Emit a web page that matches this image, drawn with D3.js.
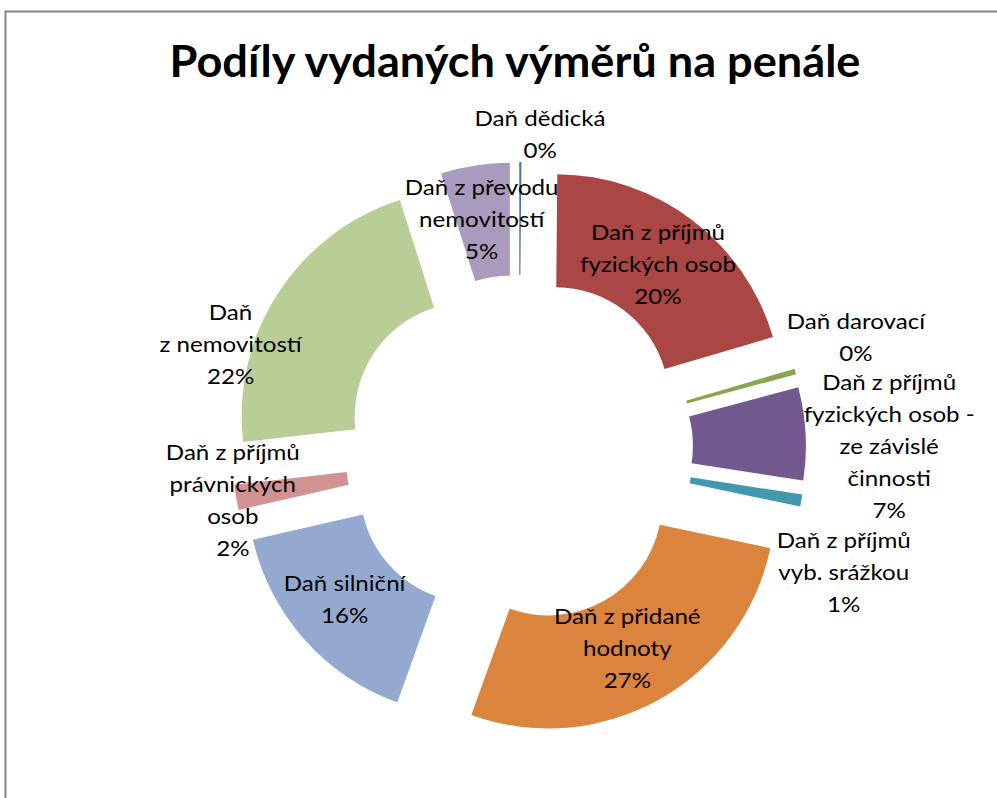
<!DOCTYPE html>
<html>
<head>
<meta charset="utf-8">
<script src="https://cdn.jsdelivr.net/npm/d3@7"></script>
<style>
  body { margin: 0; background: #fff; }
  svg text { font-family: Lato, "Open Sans", sans-serif; fill: #000; }
</style>
</head>
<body>
<div id="chart"></div>
<script>
// categories, wrapped as in the original chart (clockwise from 12 o'clock)
const categories = [
  'Daň dědická',
  'Daň z příjmů\nfyzických osob',
  'Daň darovací',
  'Daň z příjmů\nfyzických osob -\nze závislé\nčinnosti',
  'Daň z příjmů\nvyb. srážkou',
  'Daň z přidané\nhodnoty',
  'Daň silniční',
  'Daň z příjmů\nprávnických\nosob',
  'Daň\nz nemovitostí',
  'Daň z převodu\nnemovitostí'
];

// share of issued assessments (%)
const values = [0.15, 20.3, 0.4, 6.6, 0.85, 27.2, 15.9, 1.8, 21.9, 4.9];

const colors = ['#4572A7', '#AA4643', '#89A54E', '#71588F', '#4198AF',
                '#DB843D', '#93A9CF', '#D19392', '#B9CD96', '#A99BBD'];

// label nudge from the slice centroid (Excel "best fit" placement)
const labelNudge = [[20, -84], [0, 0], [115, -49], [140, 10], [98, 82],
                    [-4, -2], [-2, -2], [-59, 13], [-95, 21], [-2, -2]];

const width = 997, height = 798;
const cx = 519, cy = 449;
const outerR = 227, innerR = 114, explode = 60;
const lineH = 32;
const stretch = 1.15; // the original picture is stretched sideways

const svg = d3.select('#chart').append('svg')
    .attr('width', width)
    .attr('height', height);

// chart area frame (right and bottom run off the picture)
svg.append('rect')
    .attr('x', 5.5).attr('y', 11.5)
    .attr('width', width + 20).attr('height', height + 20)
    .attr('fill', 'none')
    .attr('stroke', '#868686')
    .attr('stroke-width', 2);

svg.append('text')
    .attr('transform', 'translate(515,77) scale(1.05,1)')
    .attr('text-anchor', 'middle')
    .style('font-size', '43px')
    .style('font-weight', 'bold')
    .text('Podíly vydaných výměrů na penále');

const total = d3.sum(values);
const pct = d3.format('.0%');

const pie = d3.pie()
    .sort(null)
    .value(d => d);

const arc = d3.arc()
    .innerRadius(innerR)
    .outerRadius(outerR);

const arcs = pie(values);

const g = svg.append('g')
    .attr('transform', `translate(${cx},${cy})`);

const slice = g.selectAll('.slice')
    .data(arcs)
  .enter().append('g')
    .attr('class', 'slice')
    .attr('transform', d => {
      const mid = (d.startAngle + d.endAngle) / 2;
      return `translate(${explode * Math.sin(mid)},${-explode * Math.cos(mid)})`;
    });

slice.append('path')
    .attr('d', arc)
    .attr('fill', (d, i) => colors[i]);

const label = slice.append('text')
    .attr('text-anchor', 'middle')
    .style('font-size', '21px')
    .attr('transform', (d, i) => {
      const c = arc.centroid(d);
      return `translate(${c[0] + labelNudge[i][0]},${c[1] + labelNudge[i][1]}) scale(${stretch},1)`;
    });

label.each(function(d, i) {
  const lines = categories[i].split('\n').concat([pct(values[i] / total)]);
  const t = d3.select(this);
  const top = -(lines.length - 1) * lineH / 2;
  lines.forEach((s, k) => {
    t.append('tspan')
        .attr('x', 0)
        .attr('y', top + k * lineH)
        .attr('dy', '0.35em')
        .text(s);
  });
});
</script>
</body>
</html>
